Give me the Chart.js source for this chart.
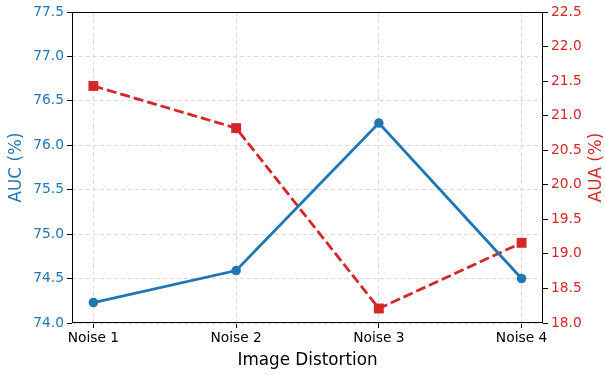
<!DOCTYPE html>
<html>
<head>
<meta charset="utf-8">
<script src="https://cdn.jsdelivr.net/npm/chart.js@4"></script>
<style>
  html, body { margin: 0; padding: 0; background: #fff; }
  #wrap { width: 605px; height: 375px; }
</style>
</head>
<body>
<div id="wrap"><canvas id="myChart"></canvas></div>
<script>
// data
const categories = ['Noise 1', 'Noise 2', 'Noise 3', 'Noise 4'];
const aucValues = [74.23, 74.59, 76.25, 74.50];
const auaValues = [21.43, 20.82, 18.21, 19.16];
const aucTicks = [74.0, 74.5, 75.0, 75.5, 76.0, 76.5, 77.0, 77.5];
const auaTicks = [18.0, 18.5, 19.0, 19.5, 20.0, 20.5, 21.0, 21.5, 22.0, 22.5];

const BLUE = '#1f77b4';
const RED = '#d62728';
const FONT = 'DejaVu Sans';
const TICK_SIZE = 13.8;
const TITLE_SIZE = 16.8;

function vTitle(ctx, text, x, y, color) {
  ctx.save();
  ctx.translate(x, y);
  ctx.rotate(-Math.PI / 2);
  ctx.fillStyle = color;
  ctx.font = TITLE_SIZE + 'px "' + FONT + '"';
  ctx.textAlign = 'center';
  ctx.textBaseline = 'middle';
  ctx.fillText(text, 0, 0);
  ctx.restore();
}

// matplotlib style box around the plot area + both y titles read bottom-to-top
const frame = {
  id: 'frame',
  afterDraw(chart) {
    const { ctx, chartArea: a } = chart;
    ctx.save();
    ctx.strokeStyle = '#000';
    ctx.lineWidth = 1;
    ctx.strokeRect(a.left + 0.5, a.top + 0.5, a.right - a.left - 1, a.bottom - a.top - 1);
    ctx.restore();
    const mid = (a.top + a.bottom) / 2;
    vTitle(ctx, 'AUC (%)', 17, mid, BLUE);
    vTitle(ctx, 'AUA (%)', 597, mid, RED);
  }
};

const ctx = document.getElementById('myChart');
new Chart(ctx, {
  type: 'line',
  data: {
    datasets: [{
      label: 'AUC',
      data: aucValues.map((v, i) => ({ x: i, y: v })),
      yAxisID: 'y',
      borderColor: BLUE,
      backgroundColor: BLUE,
      borderWidth: 2.8,
      pointStyle: 'circle',
      pointRadius: 4.8,
      pointBorderWidth: 0,
      tension: 0
    }, {
      label: 'AUA',
      data: auaValues.map((v, i) => ({ x: i, y: v })),
      yAxisID: 'y1',
      borderColor: RED,
      backgroundColor: RED,
      borderWidth: 2.8,
      borderDash: [10, 4],
      pointStyle: 'rect',
      pointRadius: 7,
      pointBorderWidth: 0,
      tension: 0
    }]
  },
  options: {
    responsive: true,
    maintainAspectRatio: false,
    animation: false,
    layout: { padding: { top: 12, right: 0, left: 0, bottom: 0 } },
    plugins: { legend: { display: false }, tooltip: { enabled: false } },
    scales: {
      x: {
        type: 'linear',
        min: -0.15,
        max: 3.15,
        afterBuildTicks: (s) => { s.ticks = categories.map((c, i) => ({ value: i })); },
        afterFit: (s) => { s.height = 52; },
        ticks: {
          color: '#000',
          font: { family: FONT, size: TICK_SIZE },
          padding: 2,
          maxRotation: 0,
          callback: (v) => categories[v]
        },
        grid: { color: '#dadada', tickLength: 5, tickColor: '#000' },
        border: { display: false, dash: [4, 3] },
        title: { display: true, text: 'Image Distortion', color: '#000', font: { family: FONT, size: TITLE_SIZE }, padding: { top: 0 } }
      },
      y: {
        position: 'left',
        min: 74.0,
        max: 77.5,
        afterBuildTicks: (s) => { s.ticks = aucTicks.map(v => ({ value: v })); },
        afterFit: (s) => { s.width = 72; },
        ticks: {
          color: BLUE,
          font: { family: FONT, size: TICK_SIZE },
          padding: 3,
          callback: (v) => v.toFixed(1)
        },
        grid: { color: '#dadada', tickLength: 5, tickColor: '#000' },
        border: { display: false, dash: [4, 3] },
        title: { display: false }
      },
      y1: {
        position: 'right',
        min: 18.0,
        max: 22.5,
        afterBuildTicks: (s) => { s.ticks = auaTicks.map(v => ({ value: v })); },
        afterFit: (s) => { s.width = 62; },
        ticks: {
          color: RED,
          font: { family: FONT, size: TICK_SIZE },
          padding: 3,
          callback: (v) => v.toFixed(1)
        },
        grid: { drawOnChartArea: false, tickLength: 5, tickColor: '#000' },
        border: { display: false },
        title: { display: false }
      }
    }
  },
  plugins: [frame]
});
</script>
</body>
</html>
